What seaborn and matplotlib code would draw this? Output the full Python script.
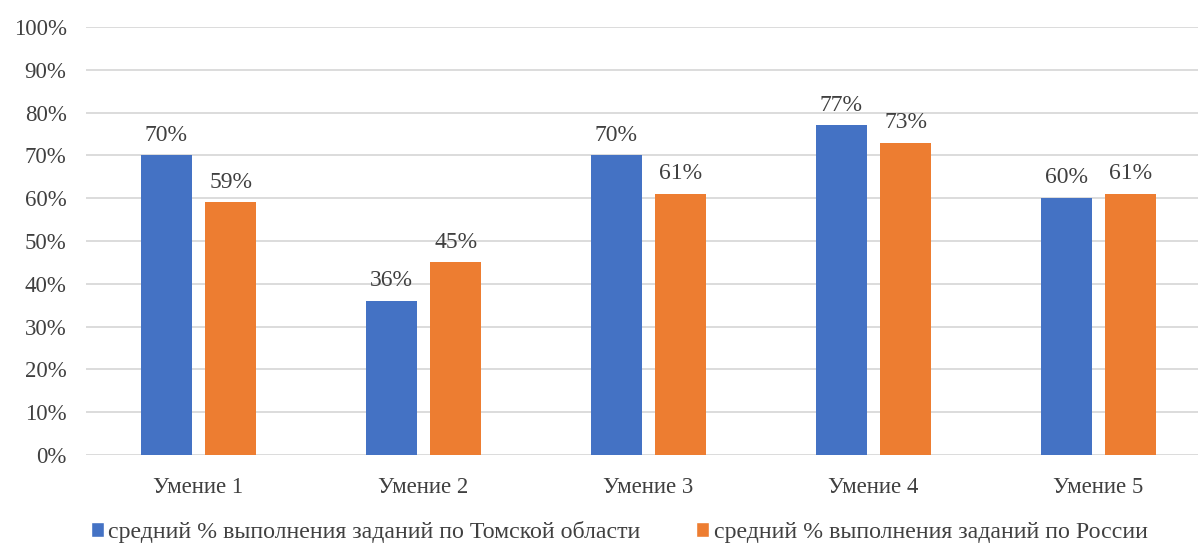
import matplotlib
matplotlib.use("Agg")
import matplotlib.pyplot as plt
from matplotlib.patches import Patch
import seaborn as sns
import pandas as pd

categories = ["Умение 1", "Умение 2", "Умение 3", "Умение 4", "Умение 5"]
tomsk = [70, 36, 70, 77, 60]
russia = [59, 45, 61, 73, 61]
series_names = ["средний % выполнения заданий по Томской области",
                "средний % выполнения заданий по России"]
colors = ["#4472C4", "#ED7D31"]
yticks = list(range(0, 101, 10))

df = pd.DataFrame({
    "cat": categories * 2,
    "val": tomsk + russia,
    "series": [series_names[0]] * len(categories) + [series_names[1]] * len(categories),
})

sns.set_theme(style="white")
plt.rcParams["font.family"] = ["Liberation Serif", "DejaVu Serif"]

fig = plt.figure(figsize=(11.98, 5.47), dpi=100)
ax = fig.add_axes([86 / 1198, 1 - 455 / 547, (1198 - 86) / 1198, (455 - 27) / 547])

sns.barplot(data=df, x="cat", y="val", hue="series", palette=colors,
            width=0.573, gap=0.21, ax=ax, legend=False, saturation=1,
            linewidth=0, edgecolor="none")

ax.set_ylim(0, 100)
ax.set_xlim(-0.5, -0.5 + (1198 - 86) / 225)
ax.set_yticks(yticks)
ax.set_yticklabels([f"{v}%" for v in yticks], fontsize=16.5, color="#404040")
ax.tick_params(axis="x", labelsize=16.5, labelcolor="#404040", pad=16, length=0)
ax.tick_params(axis="y", length=0, pad=14)
ax.set_xlabel("")
ax.set_ylabel("")
ax.yaxis.grid(True, color="#D9D9D9", linewidth=1.3)
ax.set_axisbelow(True)
for s in ax.spines.values():
    s.set_visible(False)

for cont in ax.containers:
    ax.bar_label(cont, labels=[f"{v:.0f}%" for v in cont.datavalues],
                 padding=7, fontsize=17, color="#404040")

handles = [Patch(facecolor=c, label=n) for c, n in zip(colors, series_names)]
fig.legend(handles=handles, loc="center", bbox_to_anchor=(619 / 1198, 1 - 532 / 547),
           ncol=2, frameon=False, fontsize=17.2, handlelength=0.55, handleheight=0.55,
           handletextpad=0.2, columnspacing=2.3, labelcolor="#404040")

fig.savefig("out.png", dpi=100)
